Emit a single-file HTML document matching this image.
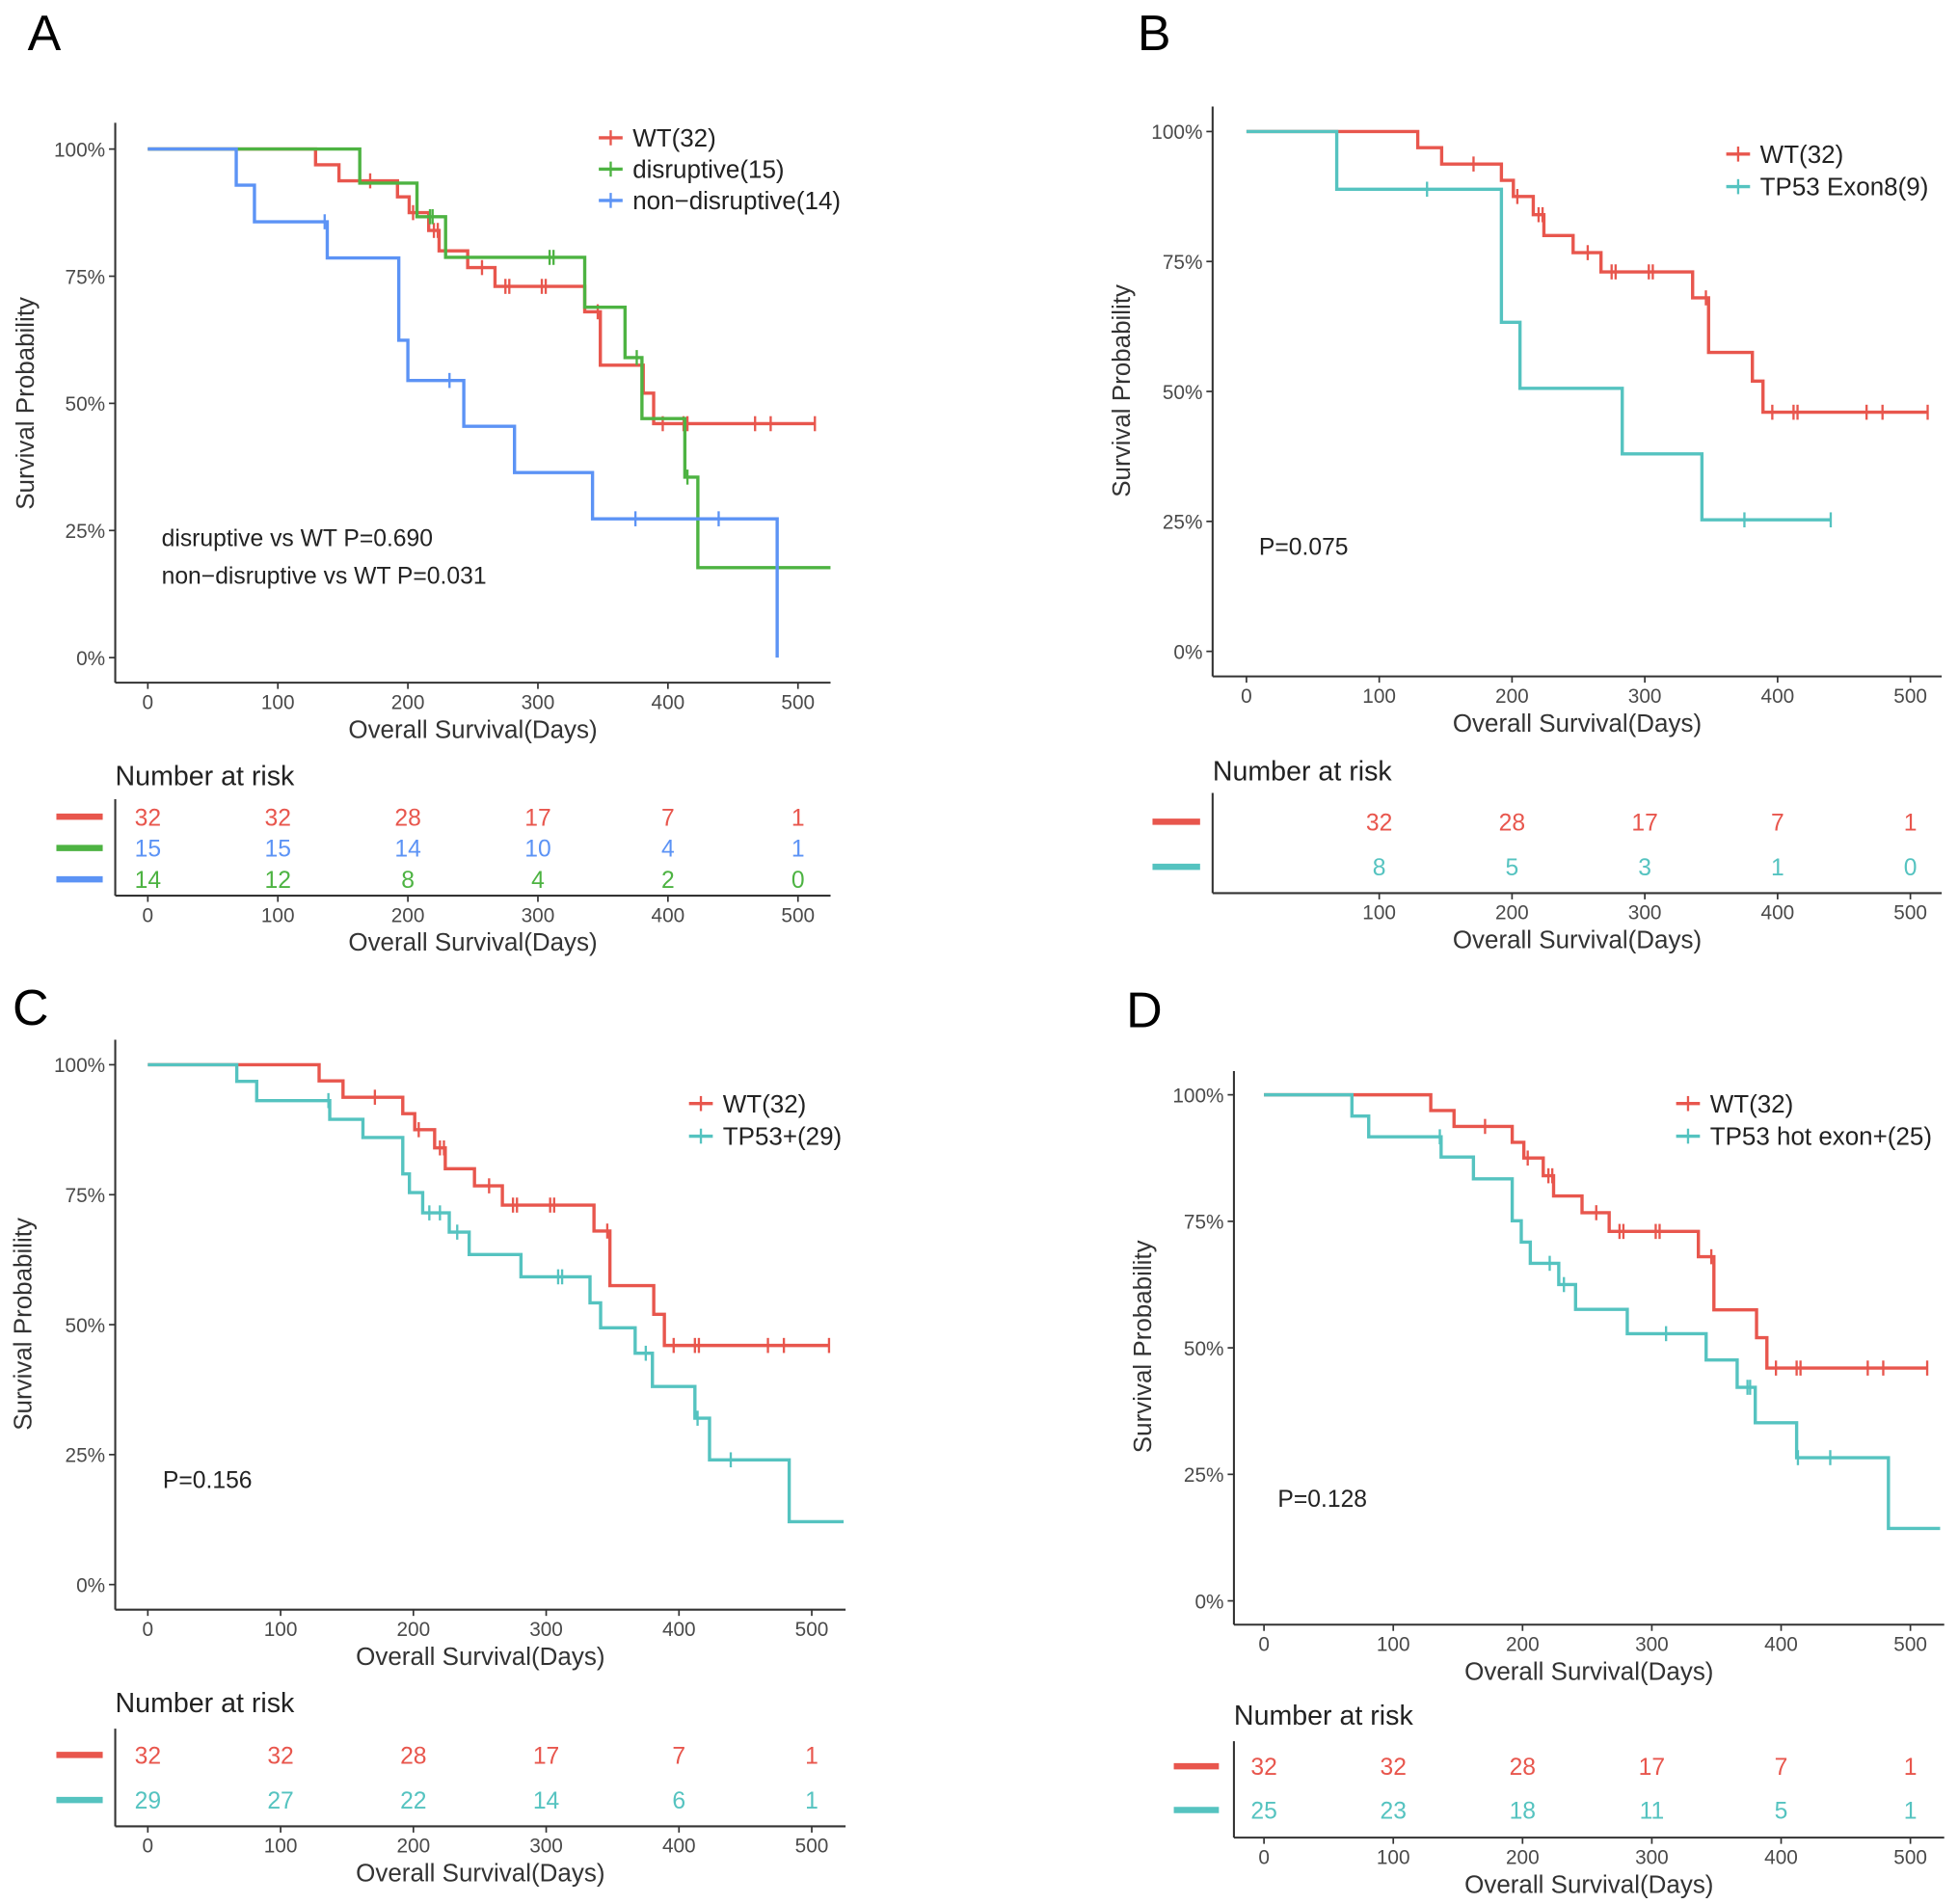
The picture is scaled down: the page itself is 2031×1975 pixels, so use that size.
<!DOCTYPE html>
<html><head><meta charset="utf-8"><style>
html,body{margin:0;padding:0;background:#fff;}
svg{display:block;font-family:"Liberation Sans",Arial,sans-serif;}
</style></head><body>
<svg id="fig" width="2031" height="1975" viewBox="0 0 1563 1520" preserveAspectRatio="none" xmlns="http://www.w3.org/2000/svg"></svg>
<script>
// ---- data ----
const wtTimes = [129,147,192,201,216,224,246,267,336,348,381,389];
const wtSurv = [0.969,0.9375,0.906,0.875,0.84,0.80,0.767,0.73,0.68,0.575,0.52,0.46];
const wtCens = [171,204,220,223,257,275,278,303,306,346,396,412,415,467,479,513];
const wtEnd = 513;

const disTimes = [163,207,229,336,367,380,413,423];
const disSurv = [0.933,0.867,0.787,0.689,0.59,0.47,0.355,0.177];
const disCens = [217,219,309,312,376,415];
const disEnd = 525;

const nonTimes = [68,82,138,193,200,243,282,342,484];
const nonSurv = [0.929,0.857,0.786,0.624,0.545,0.455,0.364,0.273,0];
const nonCens = [136,232,375,439];
const nonEnd = 484;

const ex8Times = [68,192,206,283,343];
const ex8Surv = [0.889,0.633,0.506,0.38,0.253];
const ex8Cens = [136,375,440];
const ex8End = 440;

const tpTimes = [67,82,137,162,192,197,207,227,242,281,333,341,367,380,412,423,483];
const tpSurv = [0.968,0.931,0.895,0.86,0.79,0.754,0.715,0.678,0.635,0.592,0.542,0.494,0.445,0.381,0.32,0.24,0.121];
const tpCens = [136,212,220,233,309,312,375,414,439];
const tpEnd = 524;

const hotTimes = [68,81,137,162,192,199,206,228,241,281,342,366,380,412,483];
const hotSurv = [0.958,0.917,0.877,0.834,0.751,0.709,0.667,0.625,0.576,0.528,0.476,0.422,0.352,0.283,0.143];
const hotCens = [136,221,232,311,374,376,413,438];
const hotEnd = 523;

const xTicks = [0,100,200,300,400,500];
const yTicks = [0,0.25,0.5,0.75,1];
const yTickLabels = ["0%","25%","50%","75%","100%"];

const riskA1 = [32,32,28,17,7,1];
const riskA2 = [15,15,14,10,4,1];
const riskA3 = [14,12,8,4,2,0];
const riskBTimes = [100,200,300,400,500];
const riskB1 = [32,28,17,7,1];
const riskB2 = [8,5,3,1,0];
const riskC1 = [32,32,28,17,7,1];
const riskC2 = [29,27,22,14,6,1];
const riskD1 = [32,32,28,17,7,1];
const riskD2 = [25,23,18,11,5,1];

// ---- styles ----
const RED="#E8564D", GREEN="#4DB342", BLUE="#5C93F5", TEAL="#55C3C0", INK="#333", TICK="#4a4a4a";
const NS="http://www.w3.org/2000/svg";
const svg=document.getElementById('fig');
function mk(tag,attrs,parent){const e=document.createElementNS(NS,tag);for(const k in attrs)e.setAttribute(k,attrs[k]);(parent||svg).appendChild(e);return e;}
function txt(str,attrs,parent){const e=mk('text',attrs,parent);e.textContent=str;return e;}

function survAt(times,surv,t){let s=1;for(let i=0;i<times.length;i++){if(times[i]<=t)s=surv[i];}return s;}

function panel(cfg){
  const g=mk('g',{});
  
  
  const X=t=>cfg.x0+(cfg.x500-cfg.x0)*t/500;
  const Y=p=>cfg.y0+(cfg.y1-cfg.y0)*p;
  const lt=txt(cfg.letter,{x:cfg.lx,y:cfg.ly,'font-size':40,fill:'#000'},g);
  
  
  // axes
  const ya=mk('line',{x1:cfg.ax,x2:cfg.ax,y1:cfg.top,y2:cfg.bot,stroke:INK,'stroke-width':1.6},g);
  
  
  const xa=mk('line',{x1:cfg.ax,x2:cfg.right,y1:cfg.bot,y2:cfg.bot,stroke:INK,'stroke-width':1.6},g);
  
  
  yTicks.forEach((v,i)=>{
    mk('line',{x1:cfg.ax-5,x2:cfg.ax,y1:Y(v),y2:Y(v),stroke:INK,'stroke-width':1.3},g);
    const t=txt(yTickLabels[i],{x:cfg.ax-8,y:Y(v)+6,'font-size':16,'text-anchor':'end',fill:TICK},g);
    
    
  });
  xTicks.forEach(v=>{
    mk('line',{x1:X(v),x2:X(v),y1:cfg.bot,y2:cfg.bot+5,stroke:INK,'stroke-width':1.3},g);
    const t=txt(String(v),{x:X(v),y:cfg.bot+21,'font-size':16,'text-anchor':'middle',fill:TICK},g);
    
    
  });
  const xt=txt('Overall Survival(Days)',{x:(cfg.ax+cfg.right)/2,y:cfg.bot+44,'font-size':20,'text-anchor':'middle',fill:INK},g);
  
  
  const yt=txt('Survival Probability',{x:0,y:0,'font-size':20,'text-anchor':'middle',fill:INK,transform:`translate(${cfg.ytx},${cfg.yty}) rotate(-90)`},g);
  
  
  // curves
  cfg.series.forEach(s=>{
    let d=`M${X(0)},${Y(1)}`;let cur=1;
    s.times.forEach((t,i)=>{d+=` H${X(t)} V${Y(s.surv[i])}`;cur=s.surv[i];});
    d+=` H${X(s.end)}`;
    const p=mk('path',{d:d,fill:'none',stroke:s.color,'stroke-width':2.6},g);
    
    
    s.cens.forEach(t=>{
      const yy=Y(survAt(s.times,s.surv,t));
      const c=mk('line',{x1:X(t),x2:X(t),y1:yy-6,y2:yy+6,stroke:s.color,'stroke-width':1.8},g);
      
      
    });
  });
  // legend
  cfg.series.forEach((s,i)=>{
    const ly=cfg.legY[i];
    mk('line',{x1:cfg.legX,x2:cfg.legX+19,y1:ly,y2:ly,stroke:s.color,'stroke-width':2.6},g);
    mk('line',{x1:cfg.legX+9.5,x2:cfg.legX+9.5,y1:ly-6,y2:ly+6,stroke:s.color,'stroke-width':1.8},g);
    const t=txt(s.label,{x:cfg.legX+27,y:ly+7,'font-size':20,fill:'#222'},g);
    
    
  });
  cfg.annot.forEach((a,i)=>{
    const t=txt(a,{x:cfg.annX,y:cfg.annY+30*i,'font-size':19,fill:'#222'},g);
    
    
  });
  // risk table
  const r=cfg.risk;
  const rt=txt('Number at risk',{x:cfg.ax,y:r.titleY,'font-size':22,fill:'#222'},g);
  
  
  mk('line',{x1:cfg.ax,x2:cfg.ax,y1:r.top,y2:r.bot,stroke:INK,'stroke-width':1.6},g);
  mk('line',{x1:cfg.ax,x2:cfg.right,y1:r.bot,y2:r.bot,stroke:INK,'stroke-width':1.6},g);
  r.ticks.forEach(v=>{
    mk('line',{x1:X(v),x2:X(v),y1:r.bot,y2:r.bot+5,stroke:INK,'stroke-width':1.3},g);
    const t=txt(String(v),{x:X(v),y:r.bot+21,'font-size':16,'text-anchor':'middle',fill:TICK},g);
    
    
  });
  const rx=txt('Overall Survival(Days)',{x:(cfg.ax+cfg.right)/2,y:r.bot+44,'font-size':20,'text-anchor':'middle',fill:INK},g);
  
  
  r.rows.forEach((row,i)=>{
    const yy=r.rowY[i];
    const b=mk('line',{x1:r.barX1,x2:r.barX2,y1:yy,y2:yy,stroke:row.bar,'stroke-width':5},g);
    
    
    row.vals.forEach((v,j)=>{
      const t=txt(String(v),{x:X(r.ticks[j]),y:yy+7,'font-size':19,'text-anchor':'middle',fill:row.color},g);
      
      
    });
  });
}

const wt={key:'wt',label:'WT(32)',color:RED,times:wtTimes,surv:wtSurv,cens:wtCens,end:wtEnd};

panel({id:'a',letter:'A',lx:22,ly:40,ax:92,top:98,bot:545,right:663,x0:118,x500:637,y1:119,y0:525,ytx:27,yty:322,
  series:[wt,{key:'disruptive',label:'disruptive(15)',color:GREEN,times:disTimes,surv:disSurv,cens:disCens,end:disEnd},
          {key:'non-disruptive',label:'non\u2212disruptive(14)',color:BLUE,times:nonTimes,surv:nonSurv,cens:nonCens,end:nonEnd}],
  legX:478,legY:[110,135,160],annX:129,annY:436,annot:['disruptive vs WT P=0.690','non\u2212disruptive vs WT P=0.031'],
  risk:{titleY:627,top:638,bot:715,ticks:xTicks,rowY:[652,677,702],barX1:45,barX2:82,
    rows:[{bar:RED,color:RED,vals:riskA1},{bar:GREEN,color:BLUE,vals:riskA2},{bar:BLUE,color:GREEN,vals:riskA3}]}});

panel({id:'b',letter:'B',lx:908,ly:40,ax:968,top:85,bot:540,right:1550,x0:995,x500:1525,y1:105,y0:520,ytx:902,yty:312,
  series:[wt,{key:'exon8',label:'TP53 Exon8(9)',color:TEAL,times:ex8Times,surv:ex8Surv,cens:ex8Cens,end:ex8End}],
  legX:1378,legY:[123,149],annX:1005,annY:443,annot:['P=0.075'],
  risk:{titleY:623,top:633,bot:713,ticks:riskBTimes,rowY:[656,692],barX1:920,barX2:958,
    rows:[{bar:RED,color:RED,vals:riskB1},{bar:TEAL,color:TEAL,vals:riskB2}]}});

panel({id:'c',letter:'C',lx:10,ly:818,ax:92,top:830,bot:1285,right:675,x0:118,x500:648,y1:850,y0:1265,ytx:25,yty:1057,
  series:[wt,{key:'tp53',label:'TP53+(29)',color:TEAL,times:tpTimes,surv:tpSurv,cens:tpCens,end:tpEnd}],
  legX:550,legY:[881,907],annX:130,annY:1188,annot:['P=0.156'],
  risk:{titleY:1367,top:1380,bot:1458,ticks:xTicks,rowY:[1401,1437],barX1:45,barX2:82,
    rows:[{bar:RED,color:RED,vals:riskC1},{bar:TEAL,color:TEAL,vals:riskC2}]}});

panel({id:'d',letter:'D',lx:899,ly:820,ax:985,top:855,bot:1297,right:1552,x0:1009,x500:1525,y1:874,y0:1278,ytx:919,yty:1075,
  series:[wt,{key:'hot-exon',label:'TP53 hot exon+(25)',color:TEAL,times:hotTimes,surv:hotSurv,cens:hotCens,end:hotEnd}],
  legX:1338,legY:[881,907],annX:1020,annY:1203,annot:['P=0.128'],
  risk:{titleY:1377,top:1390,bot:1467,ticks:xTicks,rowY:[1410,1445],barX1:937,barX2:973,
    rows:[{bar:RED,color:RED,vals:riskD1},{bar:TEAL,color:TEAL,vals:riskD2}]}});
</script>
</body></html>
